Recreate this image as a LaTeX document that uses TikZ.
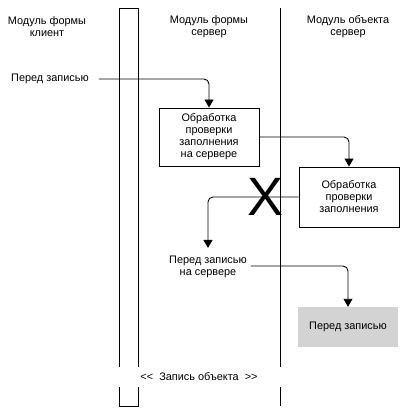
\documentclass[tikz,border=0pt]{standalone}
\usepackage{fontspec}
\setmainfont{Liberation Sans}
\usepackage{tikz}
\usetikzlibrary{arrows.meta,positioning}
\definecolor{boxgray}{RGB}{211,211,211}
\tikzstyle{arrow} = [line width=0.9pt,-{Triangle[width=9pt,length=8pt]},rounded corners=5pt]
\tikzstyle{lane} = [line width=0.9pt]
\tikzstyle{txt} = [font=\fontsize{10.9}{12}\selectfont, align=center, inner sep=0pt]
\tikzstyle{proc} = [rectangle, txt, minimum width=100pt]

\begin{document}
\begin{tikzpicture}[x=1pt, y=-1pt]
    \useasboundingbox (0,0) rectangle (417,417);

    % Lanes
    \draw[lane] (119,8) -- (138,8);
    \draw[lane] (119,8) -- (119,406) -- (138,406) -- (138,8);
    \draw[lane] (280,8) -- (280,406);

    % Headings
    \node[txt] (mfk) at (47,27) {Модуль формы\\клиент};
    \node[txt] (mfs) at (209,27) {Модуль формы\\сервер};
    \node[txt] (mos) at (348,27) {Модуль объекта\\сервер};

    % Client
    \node[txt, anchor=west] (zap1) at (11,79) {Перед записью};

    % Form server
    \node[proc, draw, line width=0.9pt, minimum height=58pt] (obr1) at (209,137) {Обработка\\проверки\\заполнения\\на сервере};
    \node[txt] (zap2) at (208,267) {Перед записью\\на сервере};

    % Object server
    \node[proc, draw, line width=0.9pt, minimum height=60pt] (obr2) at (349,197) {Обработка\\проверки\\заполнения};
    \node[proc, fill=boxgray, minimum height=40pt] (zap3) at (348,327) {Перед записью};

    % Arrows
    \draw[arrow] ([xshift=10pt]zap1.east) -| (obr1.north);
    \draw[arrow] (obr1.east) -| (obr2.north);
    \draw[arrow] (obr2.west) -| ([yshift=8pt]zap2.north);
    \draw[arrow] ([xshift=4pt,yshift=1pt]zap2.east) -| (zap3.north);

    % Cross
    \node[font=\fontsize{54}{54}\selectfont, inner sep=0pt] (cross) at (266,197) {X};

    % Bottom label
    \node[txt, fill=white, minimum width=180pt, minimum height=20pt] (zapobj) at (199,377) {<{}<\ \ Запись объекта\ \ >{}>};
\end{tikzpicture}
\end{document}
